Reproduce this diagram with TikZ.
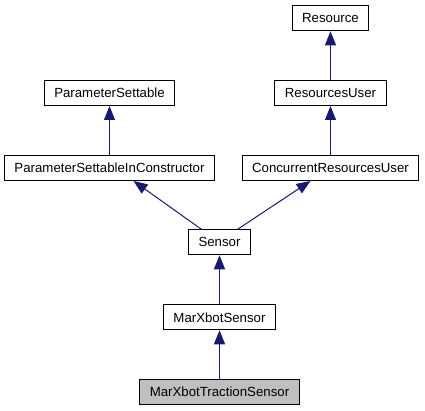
\documentclass[tikz,border=0pt]{standalone}
\usepackage{fontspec}
\setmainfont{Liberation Sans}
\usetikzlibrary{positioning}
\usetikzlibrary{arrows.meta}
\definecolor{edgeblue}{RGB}{25,25,112}
\definecolor{selgray}{RGB}{191,191,191}
\tikzset{
  cls/.style={shape=rectangle,draw,line width=0.9bp,fill=white,inner xsep=10bp,
    minimum height=25bp,font=\fontsize{13.3}{15}\selectfont},
  thiscls/.style={cls,fill=selgray},
  inh/.style={edgeblue,line width=1bp,-{Triangle[width=11bp,length=14bp]}}
}
\begin{document}
\begin{tikzpicture}[x=1bp,y=-1bp]
\useasboundingbox (0,0) rectangle (425,411);
\path
(330.5,18.3) node [cls](resource) {Resource}
(330.5,93) node [cls](resuser) {ResourcesUser}
(109.5,93) node [cls](parset) {ParameterSettable}
(109.5,168) node [cls](parsetctor) {ParameterSettableInConstructor}
(330.5,168) node [cls](concuser) {ConcurrentResourcesUser}
(219.5,242.3) node [cls](sensor) {Sensor}
(219.5,317.3) node [cls](mxsensor) {MarXbotSensor}
(219.5,391.7) node [thiscls](mxtraction) {MarXbotTractionSensor};
\draw [inh](resuser) --(resource);
\draw [inh](concuser) --(resuser);
\draw [inh](parsetctor) --(parset);
\draw [inh]([xshift=-18bp]sensor.north) --([xshift=24bp]parsetctor.south);
\draw [inh]([xshift=18bp]sensor.north) --([xshift=-20bp]concuser.south);
\draw [inh](mxsensor) --(sensor);
\draw [inh](mxtraction) --(mxsensor);
\end{tikzpicture}
\end{document}
